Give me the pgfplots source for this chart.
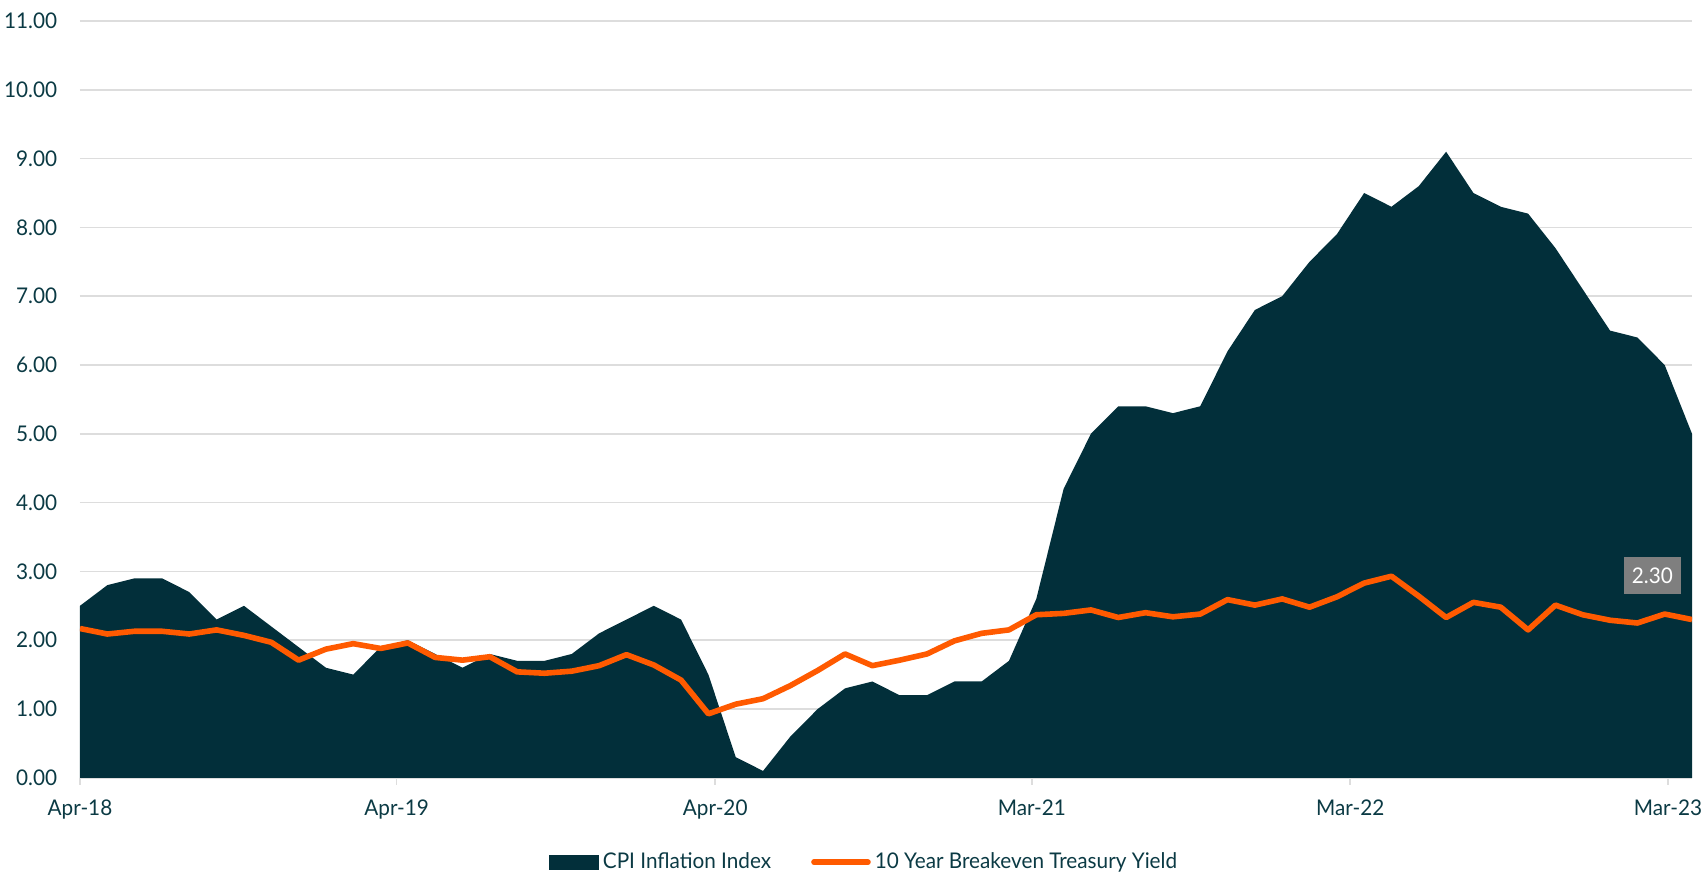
\documentclass[border=0pt]{standalone}
\usepackage{fontspec}
\setmainfont[FakeStretch=0.96]{Lato}
\usepackage{pgfplots}
\pgfplotsset{compat=1.18}
\usepackage{pgfplotstable}
\definecolor{cpi}{HTML}{022F3A}
\definecolor{bei}{HTML}{FF5A00}
\definecolor{txt}{HTML}{0B3A44}
\definecolor{grd}{HTML}{DDDDDD}
\definecolor{lbl}{HTML}{7F7F7F}
\pgfplotstableread{
i cpi bei
0 2.5 2.17
1 2.8 2.09
2 2.9 2.13
3 2.9 2.13
4 2.7 2.09
5 2.3 2.15
6 2.5 2.07
7 2.2 1.97
8 1.9 1.71
9 1.6 1.87
10 1.5 1.95
11 1.9 1.88
12 2.0 1.96
13 1.8 1.75
14 1.6 1.71
15 1.8 1.76
16 1.7 1.54
17 1.7 1.52
18 1.8 1.55
19 2.1 1.63
20 2.3 1.79
21 2.5 1.64
22 2.3 1.42
23 1.5 0.93
24 0.3 1.07
25 0.1 1.15
26 0.6 1.34
27 1.0 1.56
28 1.3 1.80
29 1.4 1.63
30 1.2 1.71
31 1.2 1.80
32 1.4 1.99
33 1.4 2.10
34 1.7 2.15
35 2.6 2.37
36 4.2 2.39
37 5.0 2.44
38 5.4 2.33
39 5.4 2.40
40 5.3 2.34
41 5.4 2.38
42 6.2 2.59
43 6.8 2.51
44 7.0 2.60
45 7.5 2.48
46 7.9 2.63
47 8.5 2.83
48 8.3 2.93
49 8.6 2.64
50 9.1 2.33
51 8.5 2.55
52 8.3 2.48
53 8.2 2.15
54 7.7 2.51
55 7.1 2.37
56 6.5 2.29
57 6.4 2.25
58 6.0 2.38
59 5.0 2.30
}\data
\begin{document}
\begin{tikzpicture}
\begin{axis}[name=ax, at={(0,0)}, anchor=south west,
  scale only axis, width=806pt, height=378.4pt,
  xmin=0, xmax=59, ymin=0, ymax=11,
  axis line style={draw=none},
  ytick={0,1,...,11},
  xtick={0,11.59,23.25,34.84,46.49,58.12},
  xticklabels={Apr-18,Apr-19,Apr-20,Mar-21,Mar-22,Mar-23},
  xtick pos=bottom, ytick pos=left,
  tick align=outside, major tick length=3.5pt,
  xtick style={grd, line width=0.8pt},
  ytick style={draw=none},
  ymajorgrids, grid style={grd, line width=0.8pt},
  /pgf/number format/assume math mode=true,
  yticklabel={\pgfmathprintnumber[fixed,fixed zerofill,precision=2,assume math mode=true]{\tick}},
  tick label style={font=\fontsize{10.8}{13}\selectfont, text=txt},
  yticklabel style={xshift=-4.4pt},
  xticklabel style={yshift=-3.9pt},
  legend style={at={(0.487,-0.1115)}, anchor=center, draw=none, fill=none,
    font=\fontsize{10.8}{13}\selectfont, text=txt,
    /tikz/every even column/.append style={column sep=18pt}},
  legend columns=2,
]
\addplot[fill=cpi, draw=none,
  legend image code/.code={\fill[cpi] (0pt,-3.8pt) rectangle (25pt,3.8pt);}]
  table[x=i, y=cpi]{\data} \closedcycle;
\addlegendentry{CPI Inflation Index}
\addplot[bei, line width=2.8pt, line join=round,
  legend image code/.code={\draw[bei, line width=2.8pt, line cap=round] (0pt,0pt) -- (27pt,0pt);}]
  table[x=i, y=bei]{\data};
\addlegendentry{10 Year Breakeven Treasury Yield}
\node[fill=lbl, text=white, minimum width=28.5pt, minimum height=18.5pt, inner sep=0pt,
  font=\fontsize{10.8}{13}\selectfont] at (axis cs:57.55,2.94) {2.30};
\end{axis}
\pgfresetboundingbox
\path[use as bounding box] ([xshift=-40pt,yshift=-47.65pt]ax.south west) rectangle ([xshift=5pt,yshift=10.5pt]ax.north east);
\end{tikzpicture}
\end{document}
